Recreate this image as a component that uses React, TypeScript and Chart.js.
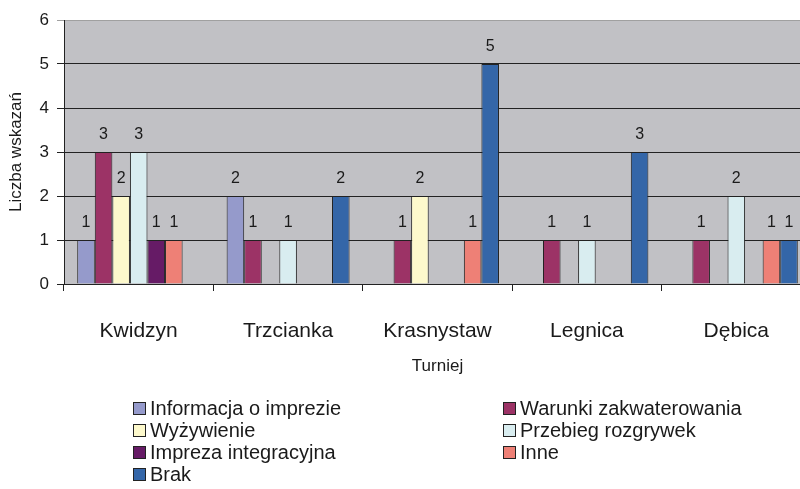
import { useEffect, useRef } from "react";
import { Chart, registerables } from "chart.js";

Chart.register(...registerables);

const categories = ["Kwidzyn", "Trzcianka", "Krasnystaw", "Legnica", "Dębica"];
const seriesNames = [
  "Informacja o imprezie",
  "Warunki zakwaterowania",
  "Wyżywienie",
  "Przebieg rozgrywek",
  "Impreza integracyjna",
  "Inne",
  "Brak",
];
const informacja = [1, 2, 0, 0, 0];
const warunki = [3, 1, 1, 1, 1];
const wyzywienie = [2, 0, 2, 0, 0];
const przebieg = [3, 1, 0, 1, 2];
const impreza = [1, 0, 0, 0, 0];
const inne = [1, 0, 1, 0, 1];
const brak = [0, 2, 5, 3, 1];
const seriesValues = [informacja, warunki, wyzywienie, przebieg, impreza, inne, brak];
const seriesColors = ["#959acb", "#9c3366", "#fdf9cc", "#d9edf0", "#661b66", "#ee8076", "#3466a8"];
const yMin = 0;
const yMax = 6;
const yStep = 1;
const yTitle = "Liczba wskazań";
const xTitle = "Turniej";

const FONT = "'Liberation Sans', Arial, sans-serif";
const TEXT = "#1a1a1a";

const plotBg = {
  id: "plotBg",
  beforeDraw(chart: any) {
    const { ctx, chartArea } = chart;
    ctx.save();
    ctx.fillStyle = "#c1c1c5";
    ctx.fillRect(chartArea.left, chartArea.top, chartArea.right - chartArea.left, chartArea.bottom - chartArea.top);
    ctx.restore();
  },
};

const valueLabels = {
  id: "valueLabels",
  afterDatasetsDraw(chart: any) {
    const { ctx } = chart;
    ctx.save();
    ctx.font = `16px ${FONT}`;
    ctx.fillStyle = TEXT;
    ctx.textAlign = "center";
    ctx.textBaseline = "bottom";
    chart.data.datasets.forEach((ds: any, di: number) => {
      const meta = chart.getDatasetMeta(di);
      meta.data.forEach((el: any, i: number) => {
        const v = ds.data[i];
        if (v === null || v === undefined || v === 0) return;
        ctx.fillText(String(v), el.x, el.y - 9);
      });
    });
    ctx.restore();
  },
};

const bottomLegend = {
  id: "bottomLegend",
  afterDraw(chart: any) {
    const { ctx } = chart;
    ctx.save();
    ctx.font = `20px ${FONT}`;
    ctx.textBaseline = "middle";
    ctx.textAlign = "left";
    chart.data.datasets.forEach((ds: any, i: number) => {
      const col = i % 2;
      const row = Math.floor(i / 2);
      const bx = col === 0 ? 133 : 503;
      const cy = 408 + row * 22;
      ctx.fillStyle = ds.backgroundColor;
      ctx.fillRect(bx, cy - 6, 12, 12);
      ctx.strokeStyle = "#222";
      ctx.lineWidth = 1;
      ctx.strokeRect(bx + 0.5, cy - 5.5, 12, 12);
      ctx.fillStyle = TEXT;
      ctx.fillText(ds.label, bx + 17, cy + 1);
    });
    ctx.restore();
  },
};

export default function App() {
  const ref = useRef<HTMLCanvasElement | null>(null);
  useEffect(() => {
    if (!ref.current) return;
    const chart = new Chart(ref.current, {
      type: "bar",
      data: {
        labels: categories,
        datasets: seriesNames.map((name, i) => ({
          label: name,
          data: seriesValues[i].map((v) => (v === 0 ? null : v)),
          backgroundColor: seriesColors[i],
          borderColor: "#222",
          borderWidth: 1,
          categoryPercentage: 0.823,
          barPercentage: 1,
        })),
      },
      options: {
        responsive: false,
        devicePixelRatio: 1,
        animation: false,
        layout: { padding: { left: 0, top: 20, right: 19, bottom: 109 } },
        plugins: { legend: { display: false }, tooltip: { enabled: false } },
        scales: {
          x: {
            afterFit(scale: any) {
              scale.height = 96;
            },
            grid: { drawOnChartArea: false, drawTicks: true, tickLength: 7, color: "#222", offset: true },
            border: { display: true, color: "#222", width: 1 },
            ticks: { font: { size: 21, family: FONT }, color: TEXT, padding: 28, maxRotation: 0, autoSkip: false },
            title: { display: true, text: xTitle, font: { size: 17, family: FONT }, color: TEXT, padding: { top: 0, bottom: 3 } },
          },
          y: {
            min: yMin,
            max: yMax,
            afterFit(scale: any) {
              scale.width = 64;
            },
            grid: {
              drawTicks: true,
              tickLength: 7,
              color: (c: any) => (c.tick && c.tick.value === yMax ? "#a0a0a0" : "#222"),
              lineWidth: 1,
            },
            border: { display: true, color: "#222", width: 1 },
            ticks: { stepSize: yStep, font: { size: 17, family: FONT }, color: TEXT, padding: 8 },
            title: { display: true, text: yTitle, font: { size: 17, family: FONT }, color: TEXT, padding: { top: 6, bottom: 0 } },
          },
        },
      },
      plugins: [plotBg, valueLabels, bottomLegend],
    });
    return () => chart.destroy();
  }, []);
  return (
    <div style={{ position: "fixed", left: 0, top: 0, width: 800, height: 489, overflow: "hidden", background: "#fff" }}>
      <canvas ref={ref} width={830} height={489} style={{ display: "block", width: 830, height: 489 }} />
    </div>
  );
}
